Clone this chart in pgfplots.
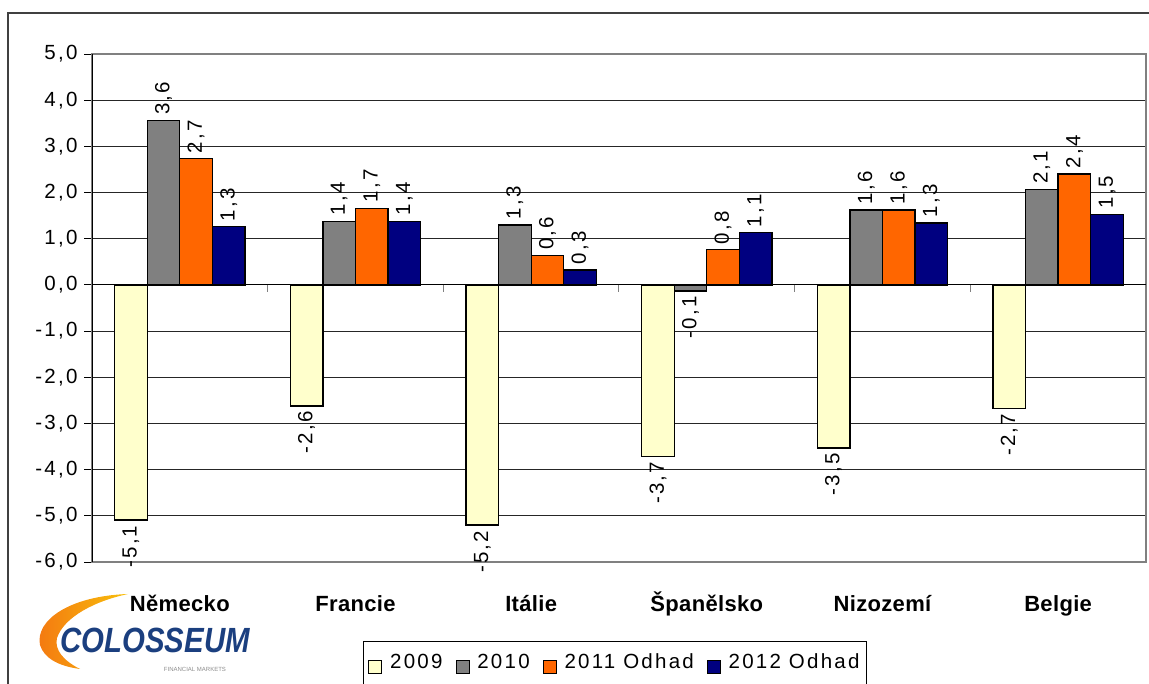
\documentclass[border=0pt]{standalone}
\usepackage{fontspec}
\setmainfont{Liberation Sans}[LetterSpace=11]
\newfontfamily\catfont{Liberation Sans}[LetterSpace=1.5]
\newfontfamily\logofont{Liberation Sans}
\usepackage{pgfplots}
\pgfplotsset{compat=1.18}
\definecolor{c09}{HTML}{FFFFCC}
\definecolor{c10}{HTML}{808080}
\definecolor{c11}{HTML}{FF6600}
\definecolor{c12}{HTML}{000080}
\definecolor{logoblue}{HTML}{1B3F7F}
\definecolor{logoorange}{HTML}{F28C14}
\begin{document}
\begin{tikzpicture}[x=1pt,y=1pt]
\useasboundingbox (0,0) rectangle (1149,684);
\clip (0,0) rectangle (1149,684);
\draw[line width=1.5pt, color=black!75] (8,-2) -- (8,671) -- (1151,671);
\begin{scope}[shift={(0,684)}, yscale=-1]
  \shade[left color=logoorange!85!red, right color=logoorange!55!yellow] (128,594) .. controls (70,596) and (35,620) .. (40,645)
     .. controls (44,658) and (58,666) .. (80,669)
     .. controls (64,661) and (54,650) .. (57,638)
     .. controls (64,617) and (95,601) .. (128,594) -- cycle;
  \node[text=logoblue, font=\logofont\bfseries\itshape\fontsize{35}{35}\selectfont, xscale=0.84, inner sep=0pt] at (155,640) {COLOSSEUM};
  \node[text=black!45, font=\logofont\fontsize{6}{6}\selectfont, inner sep=0pt] at (195,669) {FINANCIAL MARKETS};
\end{scope}
\begin{axis}[
  at={(92pt,122pt)}, anchor=south west,
  scale only axis, width=1054pt, height=508pt,
  ybar=0pt, bar width=0.1855,
  ymin=-6, ymax=5, xmin=-0.5, xmax=5.5,
  ytick={-6,-5,...,5},
  ytick pos=left, tick align=outside, major tick length=8pt,
  ytick style={black, line width=0.8pt},
  xtick={0,1,2,3,4,5},
  xticklabels={Německo,Francie,Itálie,Španělsko,Nizozemí,Belgie},
  xtick style={draw=none},
  xticklabel style={font=\catfont\bfseries\fontsize{22}{26}\selectfont, inner sep=7pt, text height=16pt, text depth=5pt, yshift=-18pt},
  yticklabel style={font=\fontsize{20.5}{24}\selectfont, xshift=-3pt, /pgf/number format/.cd, fixed, fixed zerofill, precision=1, use comma, assume math mode=true},
  ymajorgrids, grid style={black!85, line width=0.8pt},
  axis line style={draw=c10, line width=1.2pt},
  legend image code/.code={\draw[#1, draw=black, line width=0.8pt] (0pt,-6.5pt) rectangle (13pt,6.5pt);},
  legend columns=4,
  legend style={at={(axis description cs:0.2571,-0.1555)}, anchor=north west, draw=black, line width=0.8pt,
    font=\fontsize{20.5}{24}\selectfont, inner xsep=5pt, inner ysep=0pt,
    /tikz/every odd column/.append style={column sep=6pt},
    /tikz/every even column/.append style={column sep=11pt},
    nodes={inner ysep=0pt, text height=27pt, text depth=25pt}},
  nodes near coords={\pgfmathprintnumber[fixed,fixed zerofill,precision=1,use comma,assume math mode=true]{\pgfplotspointmeta}},
  visualization depends on={y \as \rawy},
  every node near coord/.append style={rotate=90, font=\fontsize{20.5}{24}\selectfont, inner sep=5pt, text=black,
     /utils/exec={\pgfmathparse{\rawy<0}\ifdim\pgfmathresult pt>0.5pt\gdef\myanc{east}\else\gdef\myanc{west}\fi},
     anchor=\myanc},
  every axis plot/.append style={draw=black, line width=1.3pt},
]
\addplot[fill=c09] coordinates {(0,-5.09) (1,-2.62) (2,-5.2) (3,-3.71) (4,-3.53) (5,-2.67)};
\addplot[fill=c10] coordinates {(0,3.56) (1,1.38) (2,1.30) (3,-0.13) (4,1.62) (5,2.07)};
\addplot[fill=c11] coordinates {(0,2.73) (1,1.66) (2,0.64) (3,0.76) (4,1.62) (5,2.40)};
\addplot[fill=c12] coordinates {(0,1.26) (1,1.38) (2,0.32) (3,1.13) (4,1.34) (5,1.53)};
\legend{2009,2010,2011 Odhad,2012 Odhad}
\draw[black, line width=0.8pt] (rel axis cs:0,0) -- (rel axis cs:0,1);
\draw[black, line width=0.8pt] (axis cs:-0.5,0) -- (axis cs:5.5,0);
\pgfplotsinvokeforeach{0.5,1.5,2.5,3.5,4.5}{\draw[c10, line width=1pt] (axis cs:#1,0) -- ([yshift=-7pt]axis cs:#1,0);}
\end{axis}
\end{tikzpicture}
\end{document}
